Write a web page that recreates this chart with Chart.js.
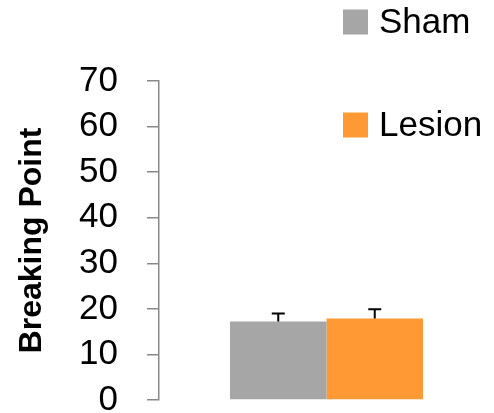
<!DOCTYPE html>
<html><head><meta charset="utf-8">
<script src="https://cdn.jsdelivr.net/npm/chart.js@4/dist/chart.umd.min.js"></script>
<style>html,body{margin:0;padding:0;background:#fff}#w{width:494px;height:413px}</style>
</head><body><div id="w"><canvas id="c"></canvas></div>
<script>
const categories = [''];
const seriesNames = ['Sham', 'Lesion'];
const shamValues = [17.2];
const lesionValues = [17.9];
const shamErrors = [1.8];
const lesionErrors = [2.0];
const yTicks = [0, 10, 20, 30, 40, 50, 60, 70];
const colors = ['#A6A6A6', '#FF9933'];
const FONT = '"Liberation Sans", Arial, sans-serif';

const errorBars = {
  id: 'errorBars',
  afterDatasetsDraw(chart) {
    const ctx = chart.ctx, ys = chart.scales.y;
    const errs = [shamErrors, lesionErrors];
    chart.data.datasets.forEach((ds, i) => {
      const meta = chart.getDatasetMeta(i);
      meta.data.forEach((bar, j) => {
        const top = ys.getPixelForValue(ds.data[j] + errs[i][j]);
        ctx.save();
        ctx.strokeStyle = '#000'; ctx.lineWidth = 2;
        ctx.beginPath();
        ctx.moveTo(bar.x, bar.y); ctx.lineTo(bar.x, top);
        ctx.moveTo(bar.x - 6.5, top); ctx.lineTo(bar.x + 6.5, top);
        ctx.stroke(); ctx.restore();
      });
    });
  }
};
const customLegend = {
  id: 'customLegend',
  afterDraw(chart) {
    const ctx = chart.ctx;
    const pos = [22, 125];
    ctx.save();
    chart.data.datasets.forEach((ds, i) => {
      ctx.fillStyle = ds.backgroundColor;
      ctx.fillRect(343, pos[i] - 12.5, 25, 25);
      ctx.fillStyle = '#000';
      ctx.font = '35px ' + FONT;
      ctx.textBaseline = 'middle';
      ctx.textAlign = 'left';
      ctx.fillText(ds.label, 379, pos[i] + 1);
    });
    ctx.restore();
  }
};

new Chart(document.getElementById('c'), {
  type: 'bar',
  data: {
    labels: categories,
    datasets: [
      { label: seriesNames[0], data: shamValues, backgroundColor: colors[0] },
      { label: seriesNames[1], data: lesionValues, backgroundColor: colors[1] }
    ]
  },
  options: {
    responsive: true, maintainAspectRatio: false, animation: false,
    layout: { padding: { top: 81, bottom: 13, left: 0, right: 0 } },
    categoryPercentage: 0.576, barPercentage: 1,
    plugins: { legend: { display: false }, tooltip: { enabled: false } },
    scales: {
      x: { display: false },
      y: {
        min: 0, max: 70,
        afterBuildTicks: s => { s.ticks = yTicks.map(v => ({ value: v })); },
        afterFit: s => { s.width = 159; s.paddingTop = 0; s.paddingBottom = 0; },
        border: { display: true, color: '#898989', width: 1.5 },
        grid: { drawOnChartArea: false, drawTicks: true, tickLength: 12, color: '#898989', lineWidth: 1.5 },
        ticks: { color: '#000', padding: 29, font: { family: FONT, size: 35 } },
        title: { display: true, text: 'Breaking Point', color: '#000', padding: { top: 13, bottom: 0 },
                 font: { family: FONT, size: 32, weight: 'bold' } }
      }
    }
  },
  plugins: [errorBars, customLegend]
});
</script></body></html>
